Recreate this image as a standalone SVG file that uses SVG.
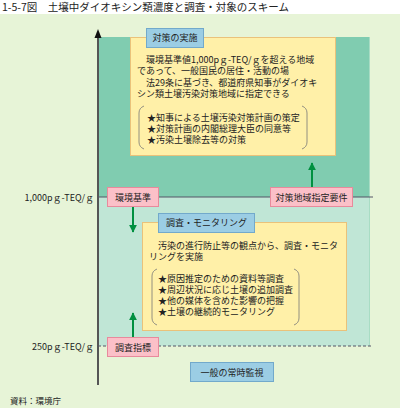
<svg xmlns="http://www.w3.org/2000/svg" width="400" height="410" viewBox="0 0 400 410">
<style>
text{font-family:"Noto Sans CJK JP","Noto Sans CJK SC",sans-serif;font-size:9px;fill:#222}
.t{font-size:10.5px;fill:#222}
.lbl{text-anchor:middle}
.ax{text-anchor:end}
.yb{fill:#fff0a8;stroke:#eac27a;stroke-width:1}
.pk{fill:#fbc0c8;stroke:#e88a9c;stroke-width:1}
.bl{fill:#9bcde4;stroke:#72a9cb;stroke-width:1}
.br{fill:none;stroke:#777;stroke-width:0.8}
.ga{stroke:#009040;stroke-width:2;fill:none}
</style>
<defs>
<marker id="gh" viewBox="0 0 10 10" refX="9" refY="5" markerWidth="4" markerHeight="4" orient="auto"><path d="M0,0 L10,5 L0,10 z" fill="#009040"/></marker>
</defs>
<rect x="0" y="0" width="400" height="410" fill="#ffffff"/>
<text class="t" x="2" y="11">1-5-7図　土壌中ダイオキシン類濃度と調査・対象のスキーム</text>
<rect x="0" y="14" width="400" height="394" fill="#e7f4d7"/>
<rect x="98" y="37" width="271" height="160" fill="#80ccb0"/>
<rect x="98" y="197" width="271" height="149" fill="#c0e6d6"/>
<line x1="369.5" y1="37" x2="369.5" y2="346" stroke="#a8dcc4" stroke-width="1"/>
<g id="axis">
<line x1="98" y1="35" x2="98" y2="385" stroke="#555" stroke-width="2"/>
<path d="M98,29 L101.5,38 L94.5,38 z" fill="#111"/>
<line x1="98" y1="197" x2="373" y2="197" stroke="#556" stroke-width="1"/>
<line x1="98" y1="346" x2="373" y2="346" stroke="#556" stroke-width="1" stroke-dasharray="3,2"/>
<text class="ax" x="94" y="200.5">1,000pｇ-TEQ/ｇ</text>
<text class="ax" x="94" y="349.5">250pｇ-TEQ/ｇ</text>
</g>
<g id="connectors">
<line class="ga" x1="312" y1="187" x2="312" y2="163" marker-end="url(#gh)"/>
<line class="ga" x1="133" y1="207" x2="133" y2="232" marker-end="url(#gh)"/>
<line class="ga" x1="133" y1="337" x2="133" y2="313" marker-end="url(#gh)"/>
</g>
<g id="box1">
<rect class="yb" x="130.5" y="37.5" width="205" height="118"/>
<text x="137" y="62.5">　環境基準値1,000pｇ-TEQ/ｇを超える地域</text>
<text x="137" y="74">であって、一般国民の居住・活動の場</text>
<text x="137" y="85.5">　法29条に基づき、都道府県知事がダイオキ</text>
<text x="137" y="97">シン類土壌汚染対策地域に指定できる</text>
<path class="br" d="M144,106 Q139,108 139,113 L139,142 Q139,147 144,149"/>
<path class="br" d="M302,106 Q307,108 307,113 L307,142 Q307,147 302,149"/>
<text x="147" y="120.5">★知事による土壌汚染対策計画の策定</text>
<text x="147" y="131.5">★対策計画の内閣総理大臣の同意等</text>
<text x="147" y="142.5">★汚染土壌除去等の対策</text>
</g>
<g id="taisaku">
<rect class="bl" x="146.5" y="28.5" width="57" height="19"/>
<text class="lbl" x="175" y="41">対策の実施</text>
</g>
<g id="kankyo">
<rect class="pk" x="107.5" y="187.5" width="51" height="19"/>
<text class="lbl" x="133" y="200.5">環境基準</text>
</g>
<g id="youken">
<rect class="pk" x="270.5" y="187.5" width="82" height="19"/>
<text class="lbl" x="311.5" y="200.5">対策地域指定要件</text>
</g>
<g id="box2">
<rect class="yb" x="142.5" y="222.5" width="204" height="108"/>
<text x="149" y="248.5">　汚染の進行防止等の観点から、調査・モニタ</text>
<text x="149" y="259.5">リングを実施</text>
<path class="br" d="M157,269 Q152,271 152,276 L152,318 Q152,323 157,325"/>
<path class="br" d="M294,269 Q299,271 299,276 L299,318 Q299,323 294,325"/>
<text x="158" y="281.5">★原因推定のための資料等調査</text>
<text x="158" y="292.5">★周辺状況に応じ土壌の追加調査</text>
<text x="158" y="304">★他の媒体を含めた影響の把握</text>
<text x="158" y="315">★土壌の継続的モニタリング</text>
</g>
<g id="chosa">
<rect class="bl" x="158.5" y="213.5" width="96" height="19"/>
<text class="lbl" x="206.5" y="226">調査・モニタリング</text>
</g>
<g id="shihyo">
<rect class="pk" x="107.5" y="337.5" width="51" height="19"/>
<text class="lbl" x="133" y="350.5">調査指標</text>
</g>
<g id="kanshi">
<rect class="bl" x="190.5" y="362.5" width="83" height="19"/>
<text class="lbl" x="232" y="375.5">一般の常時監視</text>
</g>
<text x="10" y="404" style="font-size:8.5px">資料：環境庁</text>
</svg>
